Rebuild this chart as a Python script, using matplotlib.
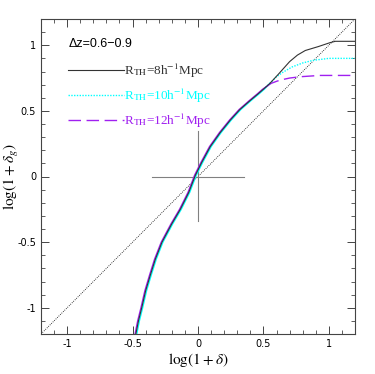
import matplotlib
matplotlib.use('Agg')
import matplotlib.pyplot as plt
from matplotlib.ticker import MultipleLocator, FormatStrFormatter

plt.rcParams['mathtext.fontset'] = 'stix'
plt.rcParams['font.family'] = 'DejaVu Sans'

# shared branch (the three smoothing scales nearly coincide below ~0.5)
x_low = [-0.475, -0.455, -0.43, -0.40, -0.364, -0.326, -0.275, -0.20, -0.135, -0.07, -0.02, 0.03, 0.094, 0.17, 0.247, 0.32, 0.40, 0.46, 0.50]
y_low = [-1.2, -1.1, -1.0, -0.87, -0.75, -0.63, -0.50, -0.36, -0.25, -0.12, 0.01, 0.11, 0.228, 0.335, 0.43, 0.51, 0.58, 0.63, 0.665]

# high-density tails
x_8 = [0.55, 0.615, 0.70, 0.76, 0.82, 0.92, 1.01, 1.05, 1.2]
y_8 = [0.71, 0.78, 0.875, 0.925, 0.96, 0.99, 1.02, 1.03, 1.03]
x_10 = [0.55, 0.60, 0.65, 0.72, 0.80, 0.88, 1.0, 1.2]
y_10 = [0.71, 0.76, 0.795, 0.835, 0.865, 0.885, 0.90, 0.90]
x_12 = [0.53, 0.56, 0.60, 0.63, 0.70, 0.78, 0.93, 1.18]
y_12 = [0.69, 0.71, 0.725, 0.735, 0.75, 0.76, 0.77, 0.77]

labels = [r'R$_{\rm TH}$=8h$^{-1}$Mpc', r'R$_{\rm TH}$=10h$^{-1}$Mpc', r'R$_{\rm TH}$=12h$^{-1}$Mpc']
colors = ['#333333', '#00ffff', '#a020f0']
title = 'Δz=0.6−0.9'

fig = plt.figure(figsize=(3.75, 3.74), dpi=100)
ax = fig.add_axes([41 / 375, 40 / 374, 314 / 375, 315 / 374])

# y = x reference line
ax.plot([-1.2, 1.2], [-1.2, 1.2], color='black', ls=(0, (1, 1.5)), lw=0.6)

# cross at origin
ax.plot([-0.35, 0.35], [0, 0], color='gray', lw=0.8)
ax.plot([0, 0], [-0.34, 0.35], color='gray', lw=0.8)

n = len(x_low)
# cyan sits slightly right, purple slightly left on the low branch
xc = [v + 0.007 for v in x_low] + x_10
yc = y_low + y_10
ax.plot(xc[:n + 1], yc[:n + 1], color=colors[1], lw=1.0)
ax.plot([x_low[-1]] + x_10, [y_low[-1]] + y_10, color=colors[1], ls=(0, (1, 1)), lw=1.0)

xp = [v - 0.006 for v in x_low] + x_12
yp = y_low + y_12
ax.plot(xp[:n + 1], yp[:n + 1], color=colors[2], lw=1.0)
ax.plot(x_12, y_12, color=colors[2], ls=(0, (9, 4)), lw=1.0)

ax.plot(x_low + x_8, y_low + y_8, color=colors[0], lw=0.8)

# legend handles
ax.plot([], [], color=colors[0], lw=0.8, label=labels[0])
ax.plot([], [], color=colors[1], ls=(0, (1, 1)), lw=1.0, label=labels[1])
ax.plot([], [], color=colors[2], ls=(0, (9, 4)), lw=1.0, label=labels[2])

ax.set_xlim(-1.2, 1.2)
ax.set_ylim(-1.2, 1.2)
for axis in (ax.xaxis, ax.yaxis):
    axis.set_major_locator(MultipleLocator(0.5))
    axis.set_minor_locator(MultipleLocator(0.1))
    axis.set_major_formatter(FormatStrFormatter('%g'))
ax.tick_params(which='both', direction='in', top=True, right=True, labelsize=7, color='#444444')
ax.tick_params(which='major', length=6, width=0.7)
ax.tick_params(which='minor', length=3, width=0.6)
for s in ax.spines.values():
    s.set_color('#444444')
    s.set_linewidth(0.8)

ax.set_xlabel(r'$\log(1+\delta)$', fontsize=11)
ax.set_ylabel(r'$\log(1+\delta_g)$', fontsize=11)
ax.xaxis.set_label_coords(0.5, -0.055)
ax.yaxis.set_label_coords(-0.065, 0.5)

leg = ax.legend(loc='upper left', bbox_to_anchor=(0.07, 0.955), frameon=False,
                title=title, alignment='left', title_fontsize=9,
                handlelength=4.2, handletextpad=0.05, borderaxespad=0,
                labelspacing=0.52, labelcolor='linecolor',
                prop={'family': 'Liberation Serif', 'size': 9.5})
leg.get_title().set_family('Liberation Sans')
leg._legend_box.sep = 8

fig.savefig('out.png', dpi=100)
